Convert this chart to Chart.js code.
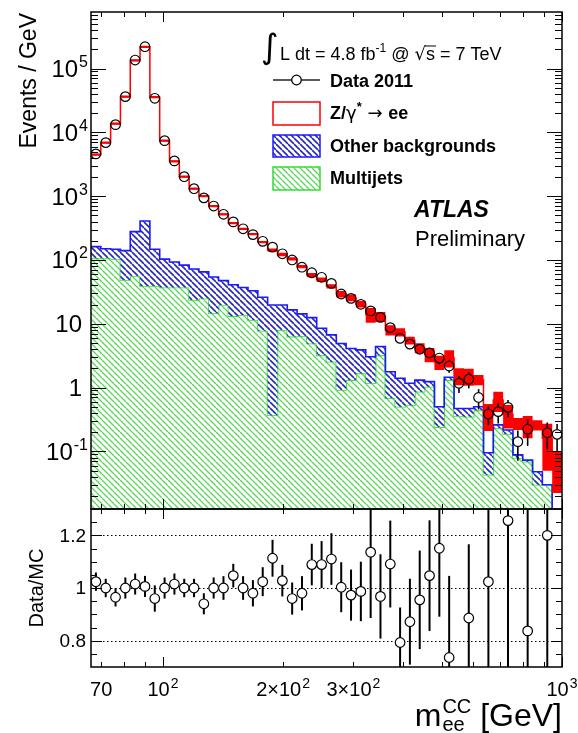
<!DOCTYPE html>
<html><head><meta charset="utf-8">
<script src="https://cdn.jsdelivr.net/npm/chart.js@4.4.0/dist/chart.umd.min.js"></script>
<style>
html,body{margin:0;padding:0;background:#fff;}
#wrap{position:relative;width:578px;height:733px;overflow:hidden;background:#fff;}
#top{position:absolute;left:0;top:0;}
#bot{position:absolute;left:0;top:500px;}
</style></head><body>
<div id="wrap">
<canvas id="top" width="578" height="515"></canvas>
<canvas id="bot" width="578" height="233"></canvas>
</div>
<script>
// ---------------- data ----------------
const binEdges = [66, 69.85, 73.92, 78.22, 82.78, 87.60, 92.71, 98.11, 103.83, 109.87, 116.28, 123.05, 130.22, 137.81, 145.83, 154.33, 163.32, 172.84, 182.90, 193.56, 204.84, 216.77, 229.40, 242.76, 256.91, 271.87, 287.71, 304.48, 322.21, 340.99, 360.85, 381.87, 404.12, 427.66, 452.58, 478.95, 506.85, 536.38, 567.62, 600.69, 635.69, 672.72, 711.91, 753.39, 797.28, 843.73, 892.88, 944.90, 1000];

const dataValues = [4590, 6900, 13200, 36300, 136000, 220000, 34200, 7410, 3570, 2020, 1310, 940, 700, 520, 395, 308, 250, 196, 159, 125, 100, 77, 63, 53.5, 43, 29.3, 25, 20.2, 15.9, 12.6, 8.7, 5.9, 4.8, 4.0, 3.5, 2.9, 2.18, 1.17, 1.35, 0.70, 0.385, 0.42, 0.49, 0.142, 0.222, null, 0.196, 0.185];

const dataRelErr = [0,0,0,0,0,0,0,0,0,0,0,0,0,0,0,0,0,0,0,0,0,0,0,0, 0.05, 0.06, 0.07, 0.08, 0.09, 0.10, 0.12, 0.14, 0.15, 0.17, 0.18, 0.20, 0.22, 0.30, 0.28, 0.35, 0.33, 0.35, 0.30, 0.50, 0.45, null, 0.45, 0.45];

const mcTotal = [4480, 6900, 13680, 36300, 134000, 218700, 35600, 7410, 3520, 2020, 1310, 1000, 700, 520, 377, 308, 255, 191, 143, 122, 104, 79, 58, 49, 38.7, 29.2, 25.7, 20.5, 14.0, 13.0, 8.0, 7.4, 5.5, 4.2, 3.34, 2.52, 2.96, 1.55, 1.52, 1.33, 0.38, 0.64, 0.38, 0.275, 0.26, 0.26, 0.16, 0.06];

const mcRelErr = [0.04,0.04,0.04,0.04,0.04,0.04,0.04,0.04,0.04,0.04,0.04,0.04,0.04,0.04,0.04,0.04,0.04,0.04, 0.06,0.06,0.06,0.06, 0.08,0.08,0.08, 0.12,0.12,0.12, 0.26, 0.18, 0.18, 0.15, 0.14, 0.18, 0.25, 0.25, 0.30, 0.30, 0.30, 0.18, 0.45, 0.35, 0.40, 0.21, 0.38, 0.18, 0.69, 0.63];

const multijets = [106, 106, 104, 48.6, 56, 39, 39, 37, 37, 37, 23.6, 25, 14.6, 19.7, 13.2, 13.7, 11.5, 7.8, 0.37, 8, 6.3, 6.4, 4.9, 3.2, 2.55, 0.92, 1.31, 1.67, 1.17, 3.2, 0.68, 0.5, 0.53, 0.86, 1.03, 0.24, 1.31, 0.36, 0.35, 0.44, 0.043, 0.23, 0.187, 0.078, 0.069, 0.030, 0.030, 0.001];

const otherBkgStacked = [162, 150, 147, 140, 278, 408, 147, 103, 93, 83, 72, 65, 54, 47.5, 41, 37, 33, 26, 19.7, 19.7, 16.5, 14.3, 12.5, 8.5, 6.7, 4.9, 4.1, 3.9, 3.05, 4.4, 1.77, 1.4, 1.17, 1.31, 1.24, 0.50, 1.45, 0.47, 0.47, 0.50, 0.095, 0.26, 0.216, 0.088, 0.073, 0.048, 0.030, 0.001];

const ratioValues = [1.024, 1.0, 0.965, 1.0, 1.015, 1.006, 0.96, 1.0, 1.015, 1.0, 1.0, 0.94, 1.0, 1.0, 1.047, 1.0, 0.98, 1.024, 1.113, 1.028, 0.96, 0.98, 1.089, 1.089, 1.11, 1.003, 0.973, 0.987, 1.136, 0.968, 1.091, 0.793, 0.872, 0.955, 1.047, 1.151, 0.736, null, 0.886, null, 1.024, null, 1.256, null, 0.837, null, 1.2, null];

const ratioErrors = [0.035,0.035,0.035,0.04,0.04,0.04,0.05,0.04,0.04,0.035,0.035,0.04,0.04,0.045,0.045,0.045,0.05,0.055,0.07,0.06,0.061,0.065,0.079,0.089,0.098,0.095,0.097,0.113,0.25,0.16,0.165,0.133,0.163,0.187,0.21,0.26,0.31,null,0.28,null,0.5,null,0.6,null,0.6,null,0.6,null];

const yDecades = [-1, 0, 1, 2, 3, 4, 5];
const xTickValues = [70, 80, 90, 100, 200, 300, 400, 500, 600, 700, 800, 900, 1000];
const xMajorTicks = [100, 1000];
const xTickLabels = [
  {v: 70, base: '70', exp: ''},
  {v: 100, base: '10', exp: '2'},
  {v: 200, base: '2\u00d710', exp: '2'},
  {v: 300, base: '3\u00d710', exp: '2'},
  {v: 1000, base: '10', exp: '3'}
];
const ratioTicks = [0.8, 1.0, 1.2];
const ratioMinorTicks = [0.75, 0.85, 0.9, 0.95, 1.05, 1.1, 1.15, 1.25];

// ---------------- helpers ----------------
const FONT = '"Liberation Sans", Arial, Helvetica, sans-serif';
const N = binEdges.length - 1;
const binCenters = binEdges.slice(0, N).map((e, i) => Math.sqrt(e * binEdges[i + 1]));

function steps(vals) {
  const pts = vals.map((v, i) => ({x: binEdges[i], y: v}));
  pts.push({x: binEdges[N], y: vals[N - 1]});
  return pts;
}
function hatch(color, spacing, lw, dir) {
  const c = document.createElement('canvas');
  c.width = c.height = spacing;
  const g = c.getContext('2d');
  g.fillStyle = '#fff'; g.fillRect(0, 0, spacing, spacing);
  g.strokeStyle = color; g.lineWidth = lw;
  g.beginPath();
  for (const k of [-spacing, 0, spacing]) {
    if (dir === 'back') { g.moveTo(k, 0); g.lineTo(k + spacing, spacing); }
    else { g.moveTo(k, spacing); g.lineTo(k + spacing, 0); }
  }
  g.stroke();
  return g.createPattern(c, 'repeat');
}
const greenHatch = hatch('#55d955', 6, 1.3, 'back');
const blueHatch = hatch('#2626c8', 6, 1.6, 'back');

function drawPow(ctx, base, exp, x, y, align, size, weight) {
  const w = weight ? weight + ' ' : '';
  ctx.font = w + size + 'px ' + FONT;
  const bw = ctx.measureText(base).width;
  const es = Math.round(size * 0.68);
  ctx.font = w + es + 'px ' + FONT;
  const ew = exp ? ctx.measureText(exp).width : 0;
  const total = bw + ew + (exp ? 1 : 0);
  const x0 = align === 'right' ? x - total : align === 'center' ? x - total / 2 : x;
  ctx.textAlign = 'left'; ctx.textBaseline = 'alphabetic';
  ctx.font = w + size + 'px ' + FONT;
  ctx.fillText(base, x0, y);
  if (exp) { ctx.font = w + es + 'px ' + FONT; ctx.fillText(exp, x0 + bw + 1, y - size * 0.42); }
}
function vline(ctx, x, y1, y2) { ctx.beginPath(); ctx.moveTo(x, y1); ctx.lineTo(x, y2); ctx.stroke(); }
function hline(ctx, y, x1, x2) { ctx.beginPath(); ctx.moveTo(x1, y); ctx.lineTo(x2, y); ctx.stroke(); }

function drawXTicks(ctx, a, x, majLen, minLen) {
  ctx.strokeStyle = '#000'; ctx.lineWidth = 1;
  for (const t of xTickValues) {
    const px = Math.round(x.getPixelForValue(t)) + 0.5;
    const len = xMajorTicks.includes(t) ? majLen : minLen;
    vline(ctx, px, a.bottom, a.bottom - len);
    vline(ctx, px, a.top, a.top + len);
  }
}
function drawFrame(ctx, a) {
  ctx.strokeStyle = '#000'; ctx.lineWidth = 1.5;
  ctx.strokeRect(a.left, a.top, a.right - a.left, a.bottom - a.top);
}

// ---------------- upper panel ----------------
const upperPlugin = {
  id: 'upperDeco',
  afterDatasetsDraw(chart) {
    const {ctx, chartArea: a, scales: {x, y}} = chart;
    ctx.save();
    ctx.beginPath(); ctx.rect(a.left, a.top, a.right - a.left, a.bottom - a.top); ctx.clip();
    ctx.strokeStyle = '#000'; ctx.lineWidth = 1.6;
    const r = 4.8;
    dataValues.forEach((d, i) => {
      const e = dataRelErr[i];
      if (d == null || !e) return;
      const px = x.getPixelForValue(binCenters[i]);
      const py = y.getPixelForValue(d);
      const pHi = y.getPixelForValue(d * (1 + e));
      const pLo = y.getPixelForValue(Math.max(d * (1 - e), 1e-4));
      if (py - r > pHi) vline(ctx, px, pHi, py - r);
      if (pLo > py + r) vline(ctx, px, py + r, pLo);
    });
    ctx.restore();
  },
  afterDraw(chart) {
    const {ctx, chartArea: a, scales: {x, y}} = chart;
    ctx.save();
    drawFrame(ctx, a);
    // y ticks
    ctx.lineWidth = 1; ctx.strokeStyle = '#000';
    for (let d = -2; d <= 6; d++) {
      for (let k = 1; k <= 9; k++) {
        const v = k * Math.pow(10, d);
        if (v < y.min || v > y.max) continue;
        const py = Math.round(y.getPixelForValue(v)) + 0.5;
        const len = k === 1 ? 15 : 7;
        hline(ctx, py, a.left, a.left + len);
        hline(ctx, py, a.right, a.right - len);
      }
    }
    drawXTicks(ctx, a, x, 10, 5);
    // y labels
    ctx.fillStyle = '#000';
    for (const d of yDecades) {
      const py = y.getPixelForValue(Math.pow(10, d));
      if (d === 0) drawPow(ctx, '1', '', 82, py + 8.5, 'right', 24);
      else if (d === 1) drawPow(ctx, '10', '', 82, py + 8.5, 'right', 24);
      else drawPow(ctx, '10', String(d), 88, py + 8.5, 'right', 24);
    }
    // y title
    ctx.save();
    ctx.translate(36, 13); ctx.rotate(-Math.PI / 2);
    ctx.font = '23px ' + FONT; ctx.textAlign = 'right'; ctx.textBaseline = 'alphabetic';
    ctx.fillText('Events / GeV', 0, 0);
    ctx.restore();

    // luminosity label
    ctx.font = '34px "DejaVu Sans"'; ctx.textAlign = 'left';
    ctx.fillText('\u222B', 261, 58);
    let cx = 280; const by = 60;
    ctx.font = '18px ' + FONT;
    const put = (t, f, dy) => { ctx.font = f; ctx.fillText(t, cx, by + (dy || 0)); cx += ctx.measureText(t).width; };
    put('L dt = 4.8 fb', '18px ' + FONT);
    put('-1', '12px ' + FONT, -8);
    put(' @ ', '18px ' + FONT);
    put('\u221A', '18px "DejaVu Sans"');
    const sx = cx;
    put('s', '18px ' + FONT);
    ctx.lineWidth = 1; hline(ctx, by - 14, sx - 1, cx + 1);
    put(' = 7 TeV', '18px ' + FONT);

    // legend
    const lx = 273, lw = 47, tx = 330;
    // data entry
    ctx.strokeStyle = '#000'; ctx.lineWidth = 1.3;
    hline(ctx, 80, lx, lx + lw / 2 - 5); hline(ctx, 80, lx + lw / 2 + 5, lx + lw);
    ctx.beginPath(); ctx.arc(lx + lw / 2, 80, 4.8, 0, Math.PI * 2); ctx.stroke();
    ctx.font = 'bold 18px ' + FONT; ctx.fillText('Data 2011', tx, 87);
    // Z entry
    ctx.fillStyle = '#fff'; ctx.fillRect(lx, 102, lw, 23);
    ctx.strokeStyle = '#ff0000'; ctx.lineWidth = 1.5; ctx.strokeRect(lx, 102, lw, 23);
    ctx.fillStyle = '#000';
    cx = tx;
    const put2 = (t, f, y0) => { ctx.font = f; ctx.fillText(t, cx, y0); cx += ctx.measureText(t).width; };
    put2('Z/', 'bold 18px ' + FONT, 119);
    put2('\u03B3', '18px "DejaVu Sans"', 119);
    put2('*', 'bold 13px ' + FONT, 111);
    put2(' \u2192 ', '18px "DejaVu Sans"', 119);
    put2('ee', 'bold 18px ' + FONT, 119);
    // other backgrounds
    ctx.fillStyle = blueHatch; ctx.fillRect(lx, 135, lw, 22);
    ctx.strokeStyle = '#1a1aff'; ctx.strokeRect(lx, 135, lw, 22);
    ctx.fillStyle = '#000'; ctx.font = 'bold 18px ' + FONT; ctx.fillText('Other backgrounds', tx, 152);
    // multijets
    ctx.fillStyle = greenHatch; ctx.fillRect(lx, 167, lw, 23);
    ctx.strokeStyle = '#33dd33'; ctx.strokeRect(lx, 167, lw, 23);
    ctx.fillStyle = '#000'; ctx.fillText('Multijets', tx, 184);
    // ATLAS
    ctx.font = 'italic bold 23px ' + FONT; ctx.fillText('ATLAS', 414, 217);
    ctx.font = '22px ' + FONT; ctx.fillText('Preliminary', 415, 246);
    ctx.restore();
  }
};

const mcHi = mcTotal.map((v, i) => v * (1 + mcRelErr[i]));
const mcLo = mcTotal.map((v, i) => Math.max(v * (1 - mcRelErr[i]), 1e-3));

new Chart(document.getElementById('top'), {
  type: 'line',
  data: {
    datasets: [
      {label: 'Multijets', data: steps(multijets), stepped: true, borderColor: '#33dd33', borderWidth: 1.6,
       backgroundColor: greenHatch, fill: 'start', pointRadius: 0, order: 10},
      {label: 'Other backgrounds', data: steps(otherBkgStacked), stepped: true, borderColor: '#1a1aff', borderWidth: 1.6,
       backgroundColor: blueHatch, fill: '-1', pointRadius: 0, order: 9},
      {label: 'mcHi', data: steps(mcHi), stepped: true, borderColor: 'rgba(0,0,0,0)', borderWidth: 1,
       fill: false, pointRadius: 0, order: 8},
      {label: 'mcLo', data: steps(mcLo), stepped: true, borderColor: 'rgba(0,0,0,0)', borderWidth: 1,
       backgroundColor: '#ff0000', fill: '-1', pointRadius: 0, order: 7},
      {label: 'Z/gamma* -> ee', data: steps(mcTotal), stepped: true, borderColor: '#ff0000', borderWidth: 1.5,
       fill: false, pointRadius: 0, order: 6},
      {label: 'Data 2011', data: binCenters.map((c, i) => ({x: c, y: dataValues[i]})), showLine: false,
       pointRadius: 4.8, pointBorderColor: '#000', pointBackgroundColor: 'rgba(0,0,0,0)', pointBorderWidth: 1.2, order: 1}
    ]
  },
  options: {
    responsive: false, animation: false, events: [],
    layout: {padding: {left: 91, right: 16, top: 12, bottom: 6}},
    plugins: {legend: {display: false}, tooltip: {enabled: false}},
    scales: {
      x: {type: 'logarithmic', min: 66, max: 1000, display: false},
      y: {type: 'logarithmic', min: 0.0125, max: 7.7e5, display: false}
    }
  },
  plugins: [upperPlugin]
});

// ---------------- lower panel ----------------
const lowerPlugin = {
  id: 'lowerDeco',
  beforeDatasetsDraw(chart) {
    const {ctx, chartArea: a, scales: {y}} = chart;
    ctx.save();
    ctx.strokeStyle = '#000'; ctx.lineWidth = 1; ctx.setLineDash([1.5, 2.5]);
    for (const t of ratioTicks) { const py = Math.round(y.getPixelForValue(t)) + 0.5; hline(ctx, py, a.left, a.right); }
    ctx.restore();
  },
  afterDatasetsDraw(chart) {
    const {ctx, chartArea: a, scales: {x, y}} = chart;
    ctx.save();
    ctx.beginPath(); ctx.rect(a.left, a.top, a.right - a.left, a.bottom - a.top); ctx.clip();
    ctx.strokeStyle = '#000'; ctx.lineWidth = 2;
    const r = 4.8;
    ratioValues.forEach((v, i) => {
      const e = ratioErrors[i];
      if (v == null || !e) return;
      const px = x.getPixelForValue(binCenters[i]);
      const py = y.getPixelForValue(v);
      const pHi = y.getPixelForValue(v + e), pLo = y.getPixelForValue(v - e);
      if (py - r > pHi) vline(ctx, px, pHi, py - r);
      if (pLo > py + r) vline(ctx, px, py + r, pLo);
    });
    ctx.restore();
  },
  afterDraw(chart) {
    const {ctx, chartArea: a, scales: {x, y}} = chart;
    ctx.save();
    drawFrame(ctx, a);
    ctx.lineWidth = 1; ctx.strokeStyle = '#000';
    for (const t of ratioTicks.concat(ratioMinorTicks)) {
      const py = Math.round(y.getPixelForValue(t)) + 0.5;
      const len = ratioTicks.includes(t) ? 11 : 6;
      hline(ctx, py, a.left, a.left + len);
      hline(ctx, py, a.right, a.right - len);
    }
    drawXTicks(ctx, a, x, 10, 5);
    ctx.fillStyle = '#000';
    for (const t of ratioTicks) {
      const py = y.getPixelForValue(t);
      ctx.font = '19px ' + FONT; ctx.textAlign = 'right'; ctx.textBaseline = 'middle';
      ctx.fillText(t === 1 ? '1' : t.toFixed(1), 86, py + 1);
    }
    for (const l of xTickLabels) {
      drawPow(ctx, l.base, l.exp, x.getPixelForValue(l.v), 196, 'center', 20);
    }
    // y title
    ctx.save();
    ctx.translate(43, 88); ctx.rotate(-Math.PI / 2);
    ctx.font = '20px ' + FONT; ctx.textAlign = 'center'; ctx.textBaseline = 'alphabetic';
    ctx.fillText('Data/MC', 0, 0);
    ctx.restore();
    // x title  m_ee^CC [GeV]
    ctx.textAlign = 'left'; ctx.textBaseline = 'alphabetic';
    ctx.font = '32px ' + FONT;
    const t2 = ' [GeV]';
    const w2 = ctx.measureText(t2).width;
    const wm = ctx.measureText('m').width;
    ctx.font = '20px ' + FONT;
    const ws = Math.max(ctx.measureText('CC').width, ctx.measureText('ee').width);
    const xr = 562;
    const x0 = xr - w2 - ws - wm - 1;
    const base = 226;
    ctx.font = '32px ' + FONT; ctx.fillText('m', x0, base);
    ctx.font = '20px ' + FONT;
    ctx.fillText('CC', x0 + wm + 1, base - 13);
    ctx.fillText('ee', x0 + wm + 1, base + 5);
    ctx.font = '32px ' + FONT; ctx.fillText(t2, x0 + wm + ws + 1, base);
    ctx.restore();
  }
};

new Chart(document.getElementById('bot'), {
  type: 'line',
  data: {
    datasets: [
      {label: 'Data/MC', data: binCenters.map((c, i) => ({x: c, y: ratioValues[i]})), showLine: false,
       pointRadius: 4.8, pointBorderColor: '#000', pointBackgroundColor: '#fff', pointBorderWidth: 1.2}
    ]
  },
  options: {
    responsive: false, animation: false, events: [],
    layout: {padding: {left: 91, right: 16, top: 9, bottom: 66}},
    plugins: {legend: {display: false}, tooltip: {enabled: false}},
    scales: {
      x: {type: 'logarithmic', min: 66, max: 1000, display: false},
      y: {type: 'linear', min: 0.7, max: 1.3, display: false}
    }
  },
  plugins: [lowerPlugin]
});
</script>
</body></html>
